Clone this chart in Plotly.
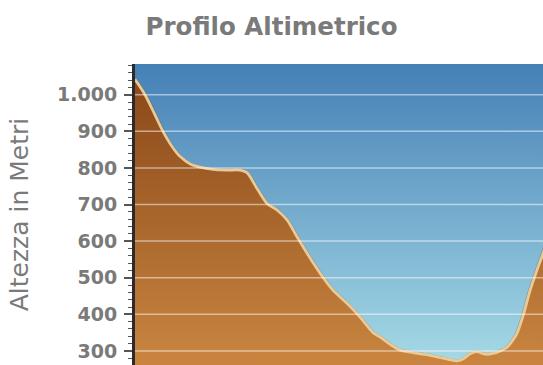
import plotly.graph_objects as go

# Elevation profile: distance along the route (km) and altitude (m)
distance_km = [0.0, 0.25, 0.5, 0.7, 0.93, 1.13, 1.38, 1.63, 1.95, 2.3, 2.63, 2.8,
               3.05, 3.3, 3.55, 3.8, 4.05, 4.3, 4.63, 4.95, 5.3, 5.63, 5.95, 6.13,
               6.38, 6.63, 6.88, 7.13, 7.38, 7.63, 7.88, 8.05, 8.2, 8.38, 8.55,
               8.75, 8.95, 9.13, 9.3, 9.45, 9.55, 9.7, 9.88, 10.05, 10.2, 10.4]
altitude_m = [1042, 1000, 945, 900, 858, 831, 811, 802, 796, 794, 794, 787,
              744, 703, 685, 658, 612, 567, 512, 466, 430, 392, 350, 338,
              318, 302, 297, 292, 288, 282, 276, 273, 278, 292, 298,
              291, 293, 300, 310, 330, 348, 395, 466, 521, 566, 640]

y_ticks = [300, 400, 500, 600, 700, 800, 900, 1000]
y_range = [261.5, 1084]
x_range = [0, 10.2]

fig = go.Figure()

# Sky backdrop: vertical blue gradient over the whole plot area
fig.add_trace(go.Scatter(
    x=[-1, 11], y=[2000, 2000], mode="lines", line=dict(width=0),
    fill="tozeroy",
    fillgradient=dict(type="vertical", start=y_range[0], stop=y_range[1],
                      colorscale=[[0, "#a6dae6"], [1, "#4580b6"]]),
    hoverinfo="skip", showlegend=False,
))

# Soft shadow under the terrain outline
fig.add_trace(go.Scatter(
    x=distance_km, y=[a - 2 for a in altitude_m], mode="lines",
    line=dict(color="rgba(60,40,20,0.25)", width=4.5, shape="spline", smoothing=0.8),
    hoverinfo="skip", showlegend=False,
))

# Terrain: brown gradient fill with a light tan outline
fig.add_trace(go.Scatter(
    x=distance_km, y=altitude_m, mode="lines",
    line=dict(color="#ebc995", width=2.8, shape="spline", smoothing=0.8),
    fill="tozeroy",
    fillgradient=dict(type="vertical", start=y_range[0], stop=1050,
                      colorscale=[[0, "#c98540"], [1, "#8a4819"]]),
    hoverinfo="skip", showlegend=False,
))

# Horizontal grid lines drawn over the sky and terrain
for v in y_ticks:
    fig.add_shape(type="line", xref="paper", yref="y", x0=0, x1=1, y0=v, y1=v,
                  line=dict(color="rgba(255,255,255,0.5)", width=1.5),
                  layer="above")

fig.update_layout(
    width=543, height=365,
    margin=dict(l=135, r=0, t=64, b=0),
    paper_bgcolor="white", plot_bgcolor="#4a84b8",
    separators=",.",
    title=dict(text="<b>Profilo Altimetrico</b>", x=0.5, xanchor="center",
               xref="container", yref="container", y=1 - 26 / 365,
               yanchor="middle",
               font=dict(family="DejaVu Sans", size=24.5, color="#7a7a7a")),
    showlegend=False,
)

fig.update_xaxes(range=x_range, visible=False, showgrid=False, zeroline=False)

fig.update_yaxes(
    range=y_range, tickvals=y_ticks, tickformat=",d",
    showgrid=False, zeroline=False,
    showline=True, linecolor="#2b2b2b", linewidth=3,
    ticks="outside", ticklen=8, tickwidth=1.5, tickcolor="#555",
    minor=dict(dtick=20, ticks="outside", ticklen=4, tickwidth=1.2,
               tickcolor="#555", showgrid=False),
    ticklabelstandoff=3,
    tickfont=dict(family="DejaVu Sans", size=19, color="#7a7a7a", weight="bold"),
    title=dict(text="Altezza in Metri", standoff=22,
               font=dict(family="DejaVu Sans", size=25, color="#7a7a7a")),
    layer="above traces",
)

fig.write_html("out.html")
